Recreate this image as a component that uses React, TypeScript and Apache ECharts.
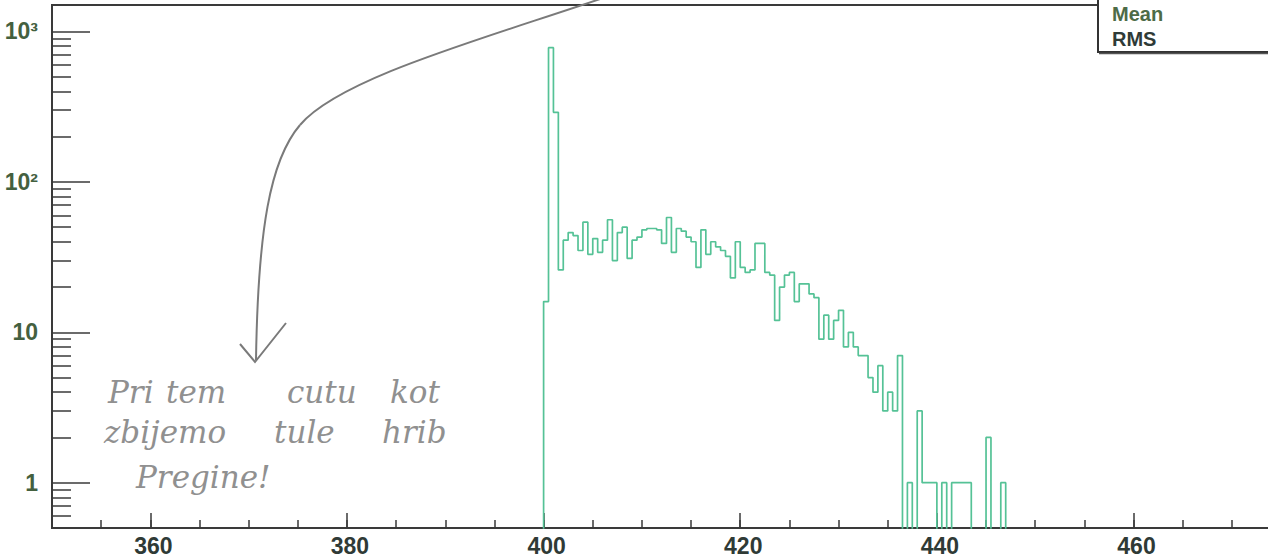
import React, { useEffect, useRef } from "react";
import * as echarts from "echarts";

// ---- data ----
const binStart = 400;
const binWidth = 0.5;
const counts = [
  16, 780, 290, 26, 41, 46, 44, 35, 54, 33,
  42, 34, 41, 56, 30, 46, 50, 31, 41, 43,
  48, 49, 49, 48, 39, 58, 34, 49, 47, 43,
  40, 27, 48, 33, 40, 37, 35, 32, 23, 40,
  27, 25, 26, 39, 39, 25, 24, 12, 20, 24,
  25, 16, 21, 21, 18, 17, 9, 13, 9, 12,
  14, 8, 10, 8, 7, 7, 5, 4, 6, 3,
  4, 3, 7, 0, 1, 0, 3, 1, 1, 1,
  0, 1, 0, 1, 1, 1, 1, 0, 0, 0,
  2, 0, 0, 1,
];
const xMin = 350;
const xMax = 475;
const xMajorTicks = [360, 380, 400, 420, 440, 460];
const xMinorInterval = 5;
const yMin = 0.5;
const yMax = 1500;
const yMajorTicks = [1, 10, 100, 1000];
const yMinorTicks = [
  0.6, 0.7, 0.8, 0.9,
  2, 3, 4, 5, 6, 7, 8, 9,
  20, 30, 40, 50, 60, 70, 80, 90,
  200, 300, 400, 500, 600, 700, 800, 900,
];
const yTickText: Record<string, string> = { "1": "1", "10": "10", "100": "10²", "1000": "10³" };
const statsLabels = ["Mean", "RMS"];
const noteWords = [
  ["Pri", "tem", "cutu", "kot"],
  ["zbijemo", "tule", "hrib"],
  ["Pregine!"],
];

// ---- build the histogram outline from the bins ----
const floorValue = yMin / 10; // empty bins drop below the axis (clipped)
const outline: number[][] = [[binStart, floorValue]];
counts.forEach((c, i) => {
  const v = c > 0 ? c : floorValue;
  const x0 = binStart + i * binWidth;
  outline.push([x0, v], [x0 + binWidth, v]);
});
outline.push([binStart + counts.length * binWidth, floorValue]);

const AXIS = "#3a3a3a";
const HAND = "#909090";
const FONT = "'Liberation Sans', Arial, sans-serif";

const notePositions = [
  [[108, 376], [166, 376], [287, 376], [390, 376]],
  [[104, 416], [274, 416], [382, 416]],
  [[136, 461]],
];

const noteGraphics: any[] = [];
noteWords.forEach((line, li) =>
  line.forEach((w, wi) => {
    noteGraphics.push({
      type: "text",
      x: notePositions[li][wi][0],
      y: notePositions[li][wi][1],
      z: 20,
      style: {
        text: w,
        fill: HAND,
        font: "italic 31px 'DejaVu Serif', serif",
      },
    });
  })
);

const option: any = {
  animation: false,
  backgroundColor: "#ffffff",
  grid: {
    left: 52,
    top: 5,
    right: 9,
    bottom: 29,
    show: true,
    borderColor: AXIS,
    borderWidth: 2,
    backgroundColor: "transparent",
  },
  xAxis: [
    {
      type: "value",
      min: xMin,
      max: xMax,
      position: "bottom",
      axisLine: { show: true, onZero: false, lineStyle: { color: AXIS, width: 2 } },
      axisTick: {
        show: true,
        inside: true,
        length: 15,
        customValues: xMajorTicks,
        lineStyle: { color: AXIS, width: 1.5 },
      },
      axisLabel: {
        customValues: xMajorTicks,
        margin: 6,
        padding: [0, 0, 0, 6],
        color: "#2f3a36",
        fontFamily: FONT,
        fontWeight: "bold",
        fontSize: 23,
      },
      splitLine: { show: false },
    },
    {
      type: "value",
      min: xMin,
      max: xMax,
      interval: xMinorInterval,
      position: "bottom",
      axisLine: { show: false, onZero: false },
      axisTick: { show: true, inside: true, length: 8, lineStyle: { color: AXIS, width: 1.5 } },
      axisLabel: { show: false },
      splitLine: { show: false },
    },
  ],
  yAxis: [
    {
      type: "log",
      logBase: 10,
      min: yMin,
      max: yMax,
      position: "left",
      axisLine: { show: true, onZero: false, lineStyle: { color: AXIS, width: 2 } },
      axisTick: {
        show: true,
        inside: true,
        length: 38,
        customValues: yMajorTicks,
        lineStyle: { color: AXIS, width: 1.5 },
      },
      axisLabel: {
        customValues: yMajorTicks,
        margin: 14,
        color: "#44603f",
        fontFamily: FONT,
        fontWeight: "bold",
        fontSize: 23,
        formatter: (v: number) => yTickText[String(Math.round(v))] ?? String(v),
      },
      splitLine: { show: false },
      minorTick: { show: false },
    },
    {
      type: "log",
      logBase: 10,
      min: yMin,
      max: yMax,
      position: "left",
      axisLine: { show: false, onZero: false },
      axisTick: {
        show: true,
        inside: true,
        length: 19,
        customValues: yMinorTicks,
        lineStyle: { color: AXIS, width: 1.5 },
      },
      axisLabel: { show: false },
      splitLine: { show: false },
    },
  ],
  series: [
    {
      type: "line",
      xAxisIndex: 0,
      yAxisIndex: 0,
      data: outline,
      showSymbol: false,
      symbol: "none",
      clip: true,
      lineStyle: { color: "#55c296", width: 1.7 },
      z: 5,
    },
  ],
  graphic: [
    // handwritten arrow
    {
      type: "bezierCurve",
      z: 20,
      shape: { x1: 606, y1: -3, cpx1: 480, cpy1: 40, cpx2: 340, cpy2: 78, x2: 300, y2: 125 },
      style: { stroke: "#7a7a7a", lineWidth: 2, fill: null },
    },
    {
      type: "bezierCurve",
      z: 20,
      shape: { x1: 300, y1: 125, cpx1: 270, cpy1: 160, cpx2: 258, cpy2: 230, x2: 256, y2: 360 },
      style: { stroke: "#7a7a7a", lineWidth: 2, fill: null },
    },
    {
      type: "polyline",
      z: 20,
      shape: { points: [[240, 344], [255, 362], [286, 323]] },
      style: { stroke: "#7a7a7a", lineWidth: 2, fill: null },
    },
    // statistics box (partly outside the picture)
    {
      type: "rect",
      z: 30,
      shape: { x: 1098, y: -20, width: 260, height: 72 },
      style: { fill: "#ffffff", stroke: "#333333", lineWidth: 2 },
    },
    {
      type: "line",
      z: 30,
      shape: { x1: 1099, y1: 53.5, x2: 1300, y2: 53.5 },
      style: { stroke: "#555555", lineWidth: 1.5 },
    },
    {
      type: "text",
      z: 31,
      x: 1112,
      y: 14,
      style: {
        text: statsLabels[0],
        fill: "#4d6b47",
        font: `bold 20px ${FONT}`,
        verticalAlign: "middle",
      },
    },
    {
      type: "text",
      z: 31,
      x: 1112,
      y: 39,
      style: {
        text: statsLabels[1],
        fill: "#2f3b37",
        font: `bold 20px ${FONT}`,
        verticalAlign: "middle",
      },
    },
    ...noteGraphics,
  ],
};

export default function App() {
  const ref = useRef<HTMLDivElement>(null);
  useEffect(() => {
    if (!ref.current) return;
    const chart = echarts.init(ref.current, undefined, { renderer: "svg" });
    chart.setOption(option);
    return () => chart.dispose();
  }, []);
  return (
    <div
      ref={ref}
      style={{ position: "fixed", left: 0, top: 0, width: 1290, height: 557, background: "#fff" }}
    />
  );
}
